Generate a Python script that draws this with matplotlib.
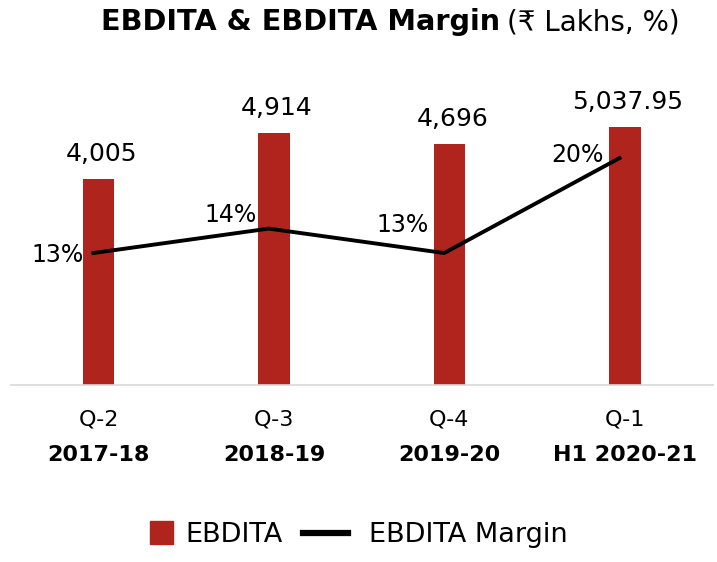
import numpy as np
import matplotlib
matplotlib.use("Agg")
import matplotlib.pyplot as plt
import matplotlib.patches as mpatches
from matplotlib.lines import Line2D
from matplotlib.legend_handler import HandlerPatch

plt.rcParams['font.family'] = ['DejaVu Sans']

# Datos
quarters = ["Q-2", "Q-3", "Q-4", "Q-1"]
years = ["2017-18", "2018-19", "2019-20", "H1 2020-21"]
ebdita = [4005, 4914, 4696, 5037.95]
ebdita_labels = ["4,005", "4,914", "4,696", "5,037.95"]
margin = [12.6, 14.4, 12.6, 19.6]  # % (etiquetas redondeadas)
margin_labels = ["13%", "14%", "13%", "20%"]

bar_color = "#AF251E"
x = np.arange(len(quarters))

fig = plt.figure(figsize=(7.17, 5.62), dpi=100)
ax = fig.add_axes([11 / 717, 1 - 384.5 / 562, 701.5 / 717, 284.5 / 562])
ax2 = ax.twinx()

bars = ax.bar(x, ebdita, width=0.18, color=bar_color, zorder=2)
line, = ax2.plot(x - 0.03, margin, color="black", lw=2.8, solid_joinstyle="miter")

ax.set_xlim(-0.5, 3.5)
ax.set_ylim(0, 5557)
ax2.set_ylim(2.91, 23.88)

for a in (ax, ax2):
    for s in a.spines.values():
        s.set_visible(False)
    a.set_yticks([])
    a.set_xticks([])
ax.spines['bottom'].set_visible(True)
ax.spines['bottom'].set_color("#D9D9D9")
ax.spines['bottom'].set_linewidth(1.2)

# Etiquetas de barras
for xi, v, lab in zip(x, ebdita, ebdita_labels):
    ax.annotate(lab, (xi, v), xytext=(2, 13), textcoords="offset points",
                ha="center", va="baseline", fontsize=18)

# Etiquetas del margen
offsets = [(-7, -6.5), (-8.6, 5), (-11, 15), (-11.5, -3)]
for xi, v, lab, off in zip(x - 0.03, margin, margin_labels, offsets):
    ax2.annotate(lab, (xi, v), xytext=off, textcoords="offset points",
                 ha="right", va="baseline", fontsize=17)

# Etiquetas del eje x
tr = ax.get_xaxis_transform()
for xi, q, yr in zip(x, quarters, years):
    ax.annotate(q, (xi, 0), xycoords=tr, xytext=(0, -25), textcoords="offset points",
                ha="center", va="center", fontsize=16)
    ax.annotate(yr, (xi, 0), xycoords=tr, xytext=(0, -51), textcoords="offset points",
                ha="center", va="center", fontsize=16, fontweight="bold")

# Título
fig.text(500 / 717, 1 - 22 / 562, "EBDITA & EBDITA Margin", ha="right", va="center",
         fontsize=20.7, fontweight="bold")
fig.text(507 / 717, 1 - 22 / 562, "(₹ Lakhs, %)", ha="left", va="center", fontsize=20)


def square(legend, orig_handle, xdescent, ydescent, width, height, fontsize):
    s = 16.5
    return mpatches.Rectangle((-xdescent + width - s + 5.8, -ydescent + (height - s) / 2), s, s)


bar_proxy = mpatches.Patch(color=bar_color)
line_proxy = Line2D([], [], color="black", lw=4.5)
leg = fig.legend([bar_proxy, line_proxy], ["EBDITA", "EBDITA Margin"],
                 loc="center", bbox_to_anchor=(0.479, 1 - 535 / 562), ncol=2,
                 frameon=False, fontsize=19.5, handlelength=1.66, handletextpad=0.77,
                 columnspacing=0.74, borderpad=0, borderaxespad=0,
                 handler_map={mpatches.Patch: HandlerPatch(patch_func=square)})

fig.savefig("out.png", dpi=100)
